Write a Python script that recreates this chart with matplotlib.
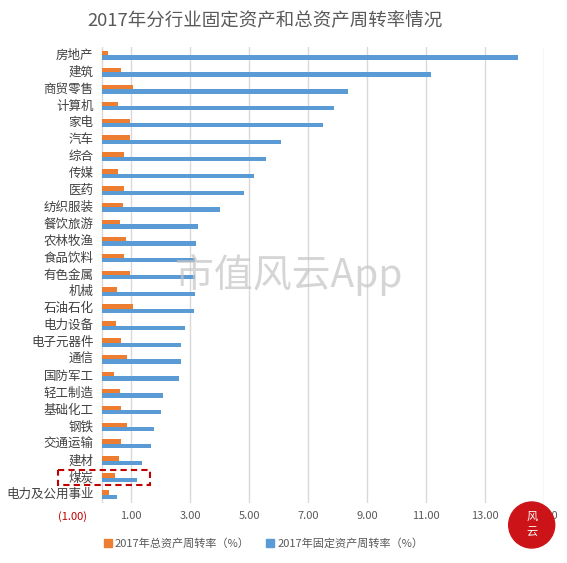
import numpy as np
import matplotlib.pyplot as plt
from matplotlib.patches import Circle, Rectangle, Patch

plt.rcParams['font.family'] = ['Noto Sans CJK SC', 'DejaVu Sans']

# Data
industries = ['房地产', '建筑', '商贸零售', '计算机', '家电', '汽车', '综合', '传媒', '医药',
              '纺织服装', '餐饮旅游', '农林牧渔', '食品饮料', '有色金属', '机械', '石油石化',
              '电力设备', '电子元器件', '通信', '国防军工', '轻工制造', '基础化工', '钢铁',
              '交通运输', '建材', '煤炭', '电力及公用事业']
total_turnover = [0.21, 0.65, 1.06, 0.56, 0.96, 0.96, 0.76, 0.56, 0.76, 0.73, 0.63, 0.83,
                  0.76, 0.96, 0.52, 1.06, 0.49, 0.66, 0.86, 0.42, 0.63, 0.66, 0.86, 0.66,
                  0.59, 0.46, 0.25]
fixed_turnover = [14.10, 11.17, 8.36, 7.89, 7.52, 6.09, 5.56, 5.15, 4.81, 4.00, 3.26, 3.19,
                  3.16, 3.16, 3.16, 3.12, 2.82, 2.69, 2.69, 2.62, 2.08, 2.01, 1.77, 1.67,
                  1.37, 1.20, 0.52]
x_ticks = [-1, 1, 3, 5, 7, 9, 11, 13, 15]
x_labels = ['(1.00)', '1.00', '3.00', '5.00', '7.00', '9.00', '11.00', '13.00', '15.00']

orange = '#ED7D31'
blue = '#5B9BD5'

fig = plt.figure(figsize=(5.67, 5.63), dpi=100)
ax = fig.add_axes([0.1275, 0.1066, 0.832, 0.81])

y = np.arange(len(industries))
h = 0.26
ax.barh(y - h / 2, total_turnover, height=h, color=orange, zorder=3)
ax.barh(y + h / 2, fixed_turnover, height=h, color=blue, zorder=3)

ax.set_xlim(-1, 15)
ax.set_ylim(len(industries) - 0.5, -0.5)

# gridlines (none at -1) and zero line
for xv in x_ticks[1:]:
    ax.axvline(xv, color='#d9d9d9', lw=1, zorder=1)
ax.axvline(0, color='#d9d9d9', lw=1, zorder=2)

ax.set_xticks(x_ticks)
ax.set_xticklabels(x_labels)
ax.tick_params(axis='x', length=0, pad=6, labelsize=8, labelcolor='#595959')
ax.get_xticklabels()[0].set_color('#C00000')
ax.set_yticks([])
for s in ax.spines.values():
    s.set_visible(False)

for i, name in enumerate(industries):
    ax.text(-0.28, i, name, ha='right', va='center', fontsize=9, color='#404040')

# highlight box around 煤炭
idx = industries.index('煤炭')
ax.add_patch(Rectangle((-1.5, idx - 0.45), 3.15, 0.9, fill=False, ec='#C00000',
                       lw=1.5, ls=(0, (3, 2)), clip_on=False, zorder=5))

fig.text(0.468, 0.962, '2017年分行业固定资产和总资产周转率情况', ha='center', va='center',
         fontsize=13.3, color='#595959')

handles = [Patch(color=orange), Patch(color=blue)]
fig.legend(handles, ['2017年总资产周转率（%）', '2017年固定资产周转率（%）'],
           loc='center', bbox_to_anchor=(0.465, 0.034), ncol=2, frameon=False,
           fontsize=8, labelcolor='#595959', handlelength=0.7, handleheight=0.7,
           handletextpad=0.3, columnspacing=1.5)

# watermark
fig.text(0.51, 0.512, '市值风云App', ha='center', va='center', fontsize=28,
         color='#c4c4c4', alpha=0.7, zorder=10)

# logo
cx, cy = 5.317, 5.63 - 5.25
fig.add_artist(Circle((cx, cy), 0.23, transform=fig.dpi_scale_trans,
                      color='#CC1418', zorder=10))
fig.text(cx / 5.67, (cy + 0.08) / 5.63, '风', ha='center', va='center',
         fontsize=8, color='white', zorder=11)
fig.text(cx / 5.67, (cy - 0.08) / 5.63, '云', ha='center', va='center',
         fontsize=8, color='white', zorder=11)

fig.savefig('out.png', dpi=100)
